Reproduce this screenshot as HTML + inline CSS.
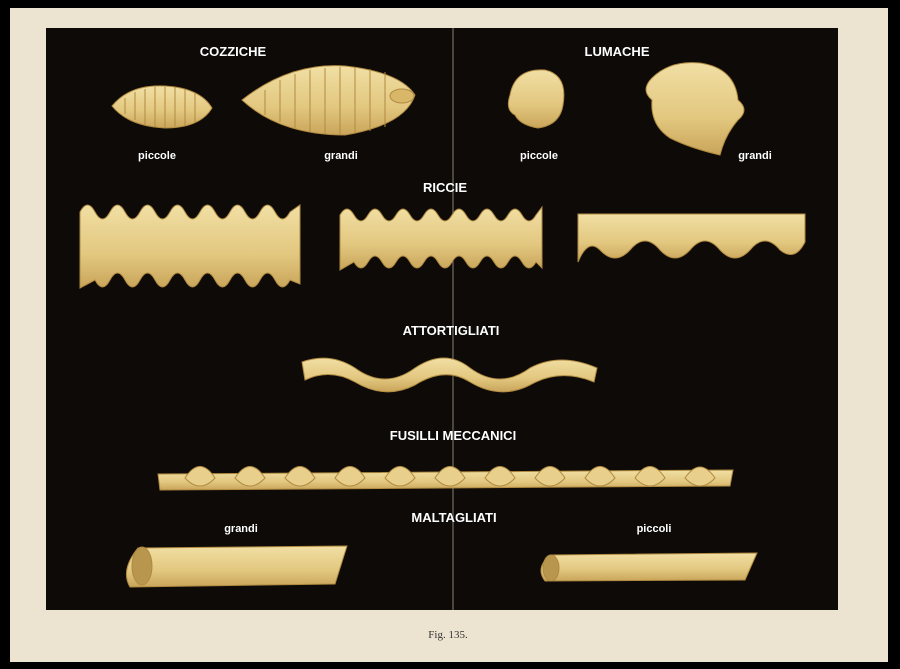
<!DOCTYPE html>
<html><head><meta charset="utf-8"><style>
html,body{margin:0;padding:0;background:#000;}
body{width:900px;height:669px;overflow:hidden;position:relative;}
svg{position:absolute;left:0;top:0;}
text{font-family:"Liberation Sans",sans-serif;font-weight:bold;fill:#fff;}
</style></head><body>
<svg width="900" height="669" viewBox="0 0 900 669">
<defs>
<linearGradient id="g" x1="0" y1="0" x2="0" y2="1">
<stop offset="0" stop-color="#f1dfa4"/><stop offset="0.6" stop-color="#e2c77f"/><stop offset="1" stop-color="#c9a55a"/>
</linearGradient>
</defs>
<rect x="0" y="0" width="900" height="669" fill="#000"/>
<rect x="10" y="8" width="878" height="654" fill="#ece3d1"/>
<rect x="46" y="28" width="792" height="582" fill="#0d0a08"/>
<line x1="453" y1="28" x2="453" y2="610" stroke="#8a8070" stroke-width="1"/>

<g fill="url(#g)" stroke="#b08a40" stroke-width="1">
<path d="M112,106 Q130,84 165,86 Q200,88 212,108 Q200,128 165,128 Q128,126 112,106Z"/>
<path d="M242,100 Q290,62 345,66 Q400,72 415,95 Q405,125 345,135 Q280,135 242,100Z"/>
<ellipse cx="402" cy="96" rx="12" ry="7" fill="#d8b868"/>
<path d="M510,95 Q515,68 545,70 Q568,75 563,105 Q560,125 538,128 Q520,125 515,115 Q505,110 510,95Z"/>
<path d="M652,78 Q670,60 700,63 Q735,68 738,100 Q750,110 738,120 Q725,135 720,155 Q690,148 670,138 Q650,125 652,100 Q640,90 652,78Z"/>
<path d="M80,212 Q87.5,198 95,212 T110,212 T125,212 T140,212 T155,212 T170,212 T185,212 T200,212 T215,212 T230,212 T245,212 T260,212 T275,212 T290,212 L300,205 L300,284 L290,280 Q282.5,294 275,280 T260,280 T245,280 T230,280 T215,280 T200,280 T185,280 T170,280 T155,280 T140,280 T125,280 T110,280 T95,280 L80,288Z"/>
<path d="M340,215 Q347,203 354,215 T368,215 T382,215 T396,215 T410,215 T424,215 T438,215 T452,215 T466,215 T480,215 T494,215 T508,215 T522,215 T536,215 L542,207 L542,268 L536,262 Q529,274 522,262 T508,262 T494,262 T480,262 T466,262 T452,262 T438,262 T424,262 T410,262 T396,262 T382,262 T368,262 T354,262 L340,270Z"/>
<path d="M578,214 L805,214 L805,242 Q795,262 780,250 Q765,232 750,250 Q735,266 720,250 Q705,232 690,250 Q675,266 660,250 Q645,232 630,250 Q615,266 600,250 Q588,238 578,262Z"/>
<path d="M302,362 Q330,352 355,368 Q385,390 415,368 Q445,348 470,368 Q500,390 530,368 Q560,352 597,368 L594,382 Q560,368 530,385 Q500,400 470,382 Q445,366 415,385 Q385,400 355,382 Q330,368 305,380Z"/>
<path d="M158,474 L733,470 L730,486 L160,490Z"/>
<g fill="#e8d08c">
<path d="M185,478 Q200,455 215,478 Q200,494 185,478Z"/><path d="M235,478 Q250,455 265,478 Q250,494 235,478Z"/>
<path d="M285,478 Q300,455 315,478 Q300,494 285,478Z"/><path d="M335,478 Q350,455 365,478 Q350,494 335,478Z"/>
<path d="M385,478 Q400,455 415,478 Q400,494 385,478Z"/><path d="M435,478 Q450,455 465,478 Q450,494 435,478Z"/>
<path d="M485,478 Q500,455 515,478 Q500,494 485,478Z"/><path d="M535,478 Q550,455 565,478 Q550,494 535,478Z"/>
<path d="M585,478 Q600,455 615,478 Q600,494 585,478Z"/><path d="M635,478 Q650,455 665,478 Q650,494 635,478Z"/>
<path d="M685,478 Q700,456 715,478 Q700,494 685,478Z"/>
</g>
<path d="M138,548 L347,546 L335,584 L130,587 Q120,570 138,548Z"/>
<ellipse cx="142" cy="566" rx="10" ry="19" fill="#b8964e"/>
<path d="M550,555 L757,553 L745,580 L545,581 Q535,568 550,555Z"/>
<ellipse cx="551" cy="568" rx="8" ry="13" fill="#b8964e"/>
</g>
<g stroke="#b08a40" stroke-width="1" fill="none">
<path d="M125,98 v16 M135,92 v28 M145,89 v36 M155,87 v40 M165,87 v41 M175,87 v40 M185,89 v37 M195,93 v30"/>
<path d="M265,90 v25 M280,80 v42 M295,74 v54 M310,70 v62 M325,68 v66 M340,67 v67 M355,67 v66 M370,69 v62 M385,72 v55"/>
</g>

<g font-size="13" text-anchor="middle">
<text x="233" y="56">COZZICHE</text>
<text x="617" y="56">LUMACHE</text>
<text x="445" y="192">RICCIE</text>
<text x="451" y="335">ATTORTIGLIATI</text>
<text x="453" y="440">FUSILLI MECCANICI</text>
<text x="454" y="522">MALTAGLIATI</text>
</g>
<g font-size="11" text-anchor="middle">
<text x="157" y="159">piccole</text>
<text x="341" y="159">grandi</text>
<text x="539" y="159">piccole</text>
<text x="755" y="159">grandi</text>
<text x="241" y="532">grandi</text>
<text x="654" y="532">piccoli</text>
</g>
<text x="448" y="638" font-size="11" text-anchor="middle" style="font-family:'Liberation Serif',serif;font-weight:normal;fill:#333">Fig. 135.</text>
</svg>
</body></html>
